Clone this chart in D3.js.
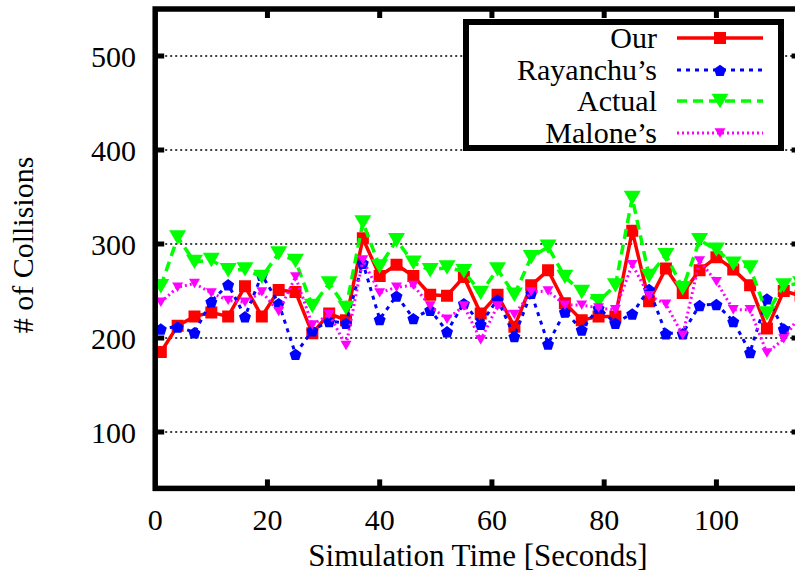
<!DOCTYPE html>
<html>
<head>
<meta charset="utf-8">
<script src="https://cdn.jsdelivr.net/npm/d3@7"></script>
<style>
  body { margin: 0; background: #fff; }
  svg text { font-family: "Liberation Serif", "DejaVu Serif", serif; fill: #000; }
</style>
</head>
<body>
<svg id="chart" width="795" height="580"></svg>
<script>
// sample times (seconds)
var times = [1, 4, 7, 10, 13, 16, 19, 22, 25, 28, 31, 34, 37, 40, 43, 46, 49, 52, 55, 58,
             61, 64, 67, 70, 73, 76, 79, 82, 85, 88, 91, 94, 97, 100, 103, 106, 109, 112, 115];

var ourVals = [185, 213, 223, 227, 223, 255, 223, 251, 249, 205, 226, 219, 306, 266, 278, 266, 246, 245, 265, 226,
               246, 212, 256, 272, 237, 219, 223, 223, 314, 239, 274, 248, 272, 286, 273, 256, 210, 250, 245];
var rayanchuVals = [210, 212, 206, 239, 257, 223, 267, 237, 183, 208, 218, 216, 280, 220, 245, 221, 230, 207, 237, 215,
                    241, 202, 248, 194, 228, 209, 232, 216, 226, 252, 205, 205, 235, 236, 218, 185, 242, 210, 213];
var actualVals = [255, 307, 281, 283, 272, 273, 265, 290, 282, 234, 258, 232, 323, 276, 304, 280, 272, 275, 271, 248,
                  273, 246, 286, 297, 265, 249, 239, 256, 349, 266, 288, 253, 304, 294, 279, 275, 226, 256, 258];
var maloneVals = [238, 254, 258, 248, 240, 238, 249, 228, 265, 214, 225, 192, 283, 248, 254, 256, 234, 220, 234, 198,
                  234, 225, 249, 250, 235, 235, 232, 230, 278, 245, 236, 203, 282, 260, 230, 230, 184, 199, 225];

var seriesNames = ["Our", "Rayanchu\u2019s", "Actual", "Malone\u2019s"];
var xTicks = [0, 20, 40, 60, 80, 100];
var yTicks = [100, 200, 300, 400, 500];

var svg = d3.select("#chart");

// plot box (note: "top" is taken by window.top, so use other names)
var plotL = 155.2, plotR = 800.6, plotT = 9, plotB = 488.4;

var x = d3.scaleLinear().domain([0, 115]).range([plotL, plotR]);
var y = d3.scaleLinear().domain([40, 550]).range([plotB, plotT]);

// series styling (gnuplot-like)
var styles = [
  { color: "#ff0000", width: 3.5, dash: null,   shape: "square",   size: 12 },
  { color: "#0000ff", width: 3,   dash: "4,5",  shape: "pentagon", size: 12 },
  { color: "#00ff00", width: 3.5, dash: "10,6", shape: "triDown",  size: 17 },
  { color: "#ff00ff", width: 3,   dash: "2,3",  shape: "triDown",  size: 11 }
];
var allVals = [ourVals, rayanchuVals, actualVals, maloneVals];

function markerPath(shape, s) {
  var r = s / 2;
  if (shape === "square") {
    return "M" + (-r) + "," + (-r) + "h" + s + "v" + s + "h" + (-s) + "Z";
  }
  if (shape === "pentagon") {
    var pts = d3.range(5).map(function (i) {
      var a = -Math.PI / 2 + i * 2 * Math.PI / 5;
      return [r * 1.05 * Math.cos(a), r * 1.05 * Math.sin(a) + 1];
    });
    return "M" + pts.join("L") + "Z";
  }
  // downward triangle
  var h = s * 0.85;
  return "M" + (-r) + "," + (-h / 2) + "L" + r + "," + (-h / 2) + "L0," + (h / 2) + "Z";
}

// grid
svg.append("g").selectAll("line")
  .data(yTicks)
  .enter().append("line")
  .attr("x1", plotL).attr("x2", plotR)
  .attr("y1", function (d) { return y(d); })
  .attr("y2", function (d) { return y(d); })
  .attr("stroke", "#000")
  .attr("stroke-width", 1.5)
  .attr("stroke-dasharray", "2,3");

// data
svg.append("clipPath").attr("id", "plotclip")
  .append("rect")
  .attr("x", plotL).attr("y", plotT)
  .attr("width", plotR - plotL).attr("height", plotB - plotT);

var plot = svg.append("g").attr("clip-path", "url(#plotclip)");

allVals.forEach(function (vals, i) {
  var st = styles[i];
  var pts = times.map(function (t, j) { return [t, vals[j]]; });
  var line = d3.line()
    .x(function (d) { return x(d[0]); })
    .y(function (d) { return y(d[1]); });

  var g = plot.append("g");
  g.append("path")
    .datum(pts)
    .attr("d", line)
    .attr("fill", "none")
    .attr("stroke", st.color)
    .attr("stroke-width", st.width)
    .attr("stroke-dasharray", st.dash)
    .attr("stroke-linejoin", "miter");

  g.selectAll("path.mk")
    .data(pts)
    .enter().append("path")
    .attr("class", "mk")
    .attr("d", markerPath(st.shape, st.size))
    .attr("transform", function (d) { return "translate(" + x(d[0]) + "," + y(d[1]) + ")"; })
    .attr("fill", st.color);
});

// frame and ticks
var axes = svg.append("g");
axes.append("rect")
  .attr("x", plotL).attr("y", plotT)
  .attr("width", plotR - plotL).attr("height", plotB - plotT)
  .attr("fill", "none").attr("stroke", "#000").attr("stroke-width", 5.5);

var tickLen = 9;
axes.selectAll("line.yt")
  .data(yTicks)
  .enter().append("line")
  .attr("class", "yt")
  .attr("x1", plotL).attr("x2", plotL + tickLen)
  .attr("y1", function (d) { return y(d); }).attr("y2", function (d) { return y(d); })
  .attr("stroke", "#000").attr("stroke-width", 5);
axes.selectAll("line.yt2")
  .data(yTicks)
  .enter().append("line")
  .attr("class", "yt2")
  .attr("x1", plotR).attr("x2", plotR - tickLen)
  .attr("y1", function (d) { return y(d); }).attr("y2", function (d) { return y(d); })
  .attr("stroke", "#000").attr("stroke-width", 5);
axes.selectAll("line.xt")
  .data(xTicks.slice(1))
  .enter().append("line")
  .attr("class", "xt")
  .attr("x1", function (d) { return x(d); }).attr("x2", function (d) { return x(d); })
  .attr("y1", plotB).attr("y2", plotB - tickLen)
  .attr("stroke", "#000").attr("stroke-width", 5);
axes.selectAll("line.xt2")
  .data(xTicks.slice(1))
  .enter().append("line")
  .attr("class", "xt2")
  .attr("x1", function (d) { return x(d); }).attr("x2", function (d) { return x(d); })
  .attr("y1", plotT).attr("y2", plotT + tickLen)
  .attr("stroke", "#000").attr("stroke-width", 5);

// tick labels
svg.selectAll("text.ylab")
  .data(yTicks)
  .enter().append("text")
  .attr("class", "ylab")
  .attr("x", 136)
  .attr("y", function (d) { return y(d) + 10.5; })
  .attr("text-anchor", "end")
  .attr("font-size", 30)
  .text(function (d) { return d; });

svg.selectAll("text.xlab")
  .data(xTicks)
  .enter().append("text")
  .attr("class", "xlab")
  .attr("x", function (d) { return x(d); })
  .attr("y", 530)
  .attr("text-anchor", "middle")
  .attr("font-size", 30)
  .text(function (d) { return d; });

// axis titles
svg.append("text")
  .attr("x", 478).attr("y", 566)
  .attr("text-anchor", "middle")
  .attr("font-size", 31)
  .text("Simulation Time [Seconds]");

svg.append("text")
  .attr("transform", "translate(33,245) rotate(-90)")
  .attr("text-anchor", "middle")
  .attr("font-size", 30)
  .text("# of Collisions");

// legend
var legend = svg.append("g");
legend.append("rect")
  .attr("x", 466).attr("y", 22)
  .attr("width", 315).attr("height", 126)
  .attr("fill", "#fff").attr("stroke", "#000").attr("stroke-width", 6);

var rowY = [38, 70, 101, 133];
seriesNames.forEach(function (name, i) {
  var st = styles[i];
  var row = legend.append("g");
  row.append("text")
    .attr("x", 657).attr("y", rowY[i] + 10)
    .attr("text-anchor", "end")
    .attr("font-size", 30)
    .text(name);
  row.append("line")
    .attr("x1", 677).attr("x2", 763)
    .attr("y1", rowY[i]).attr("y2", rowY[i])
    .attr("stroke", st.color)
    .attr("stroke-width", st.width)
    .attr("stroke-dasharray", st.dash);
  row.append("path")
    .attr("d", markerPath(st.shape, st.size))
    .attr("transform", "translate(720," + rowY[i] + ")")
    .attr("fill", st.color);
});
</script>
</body>
</html>
